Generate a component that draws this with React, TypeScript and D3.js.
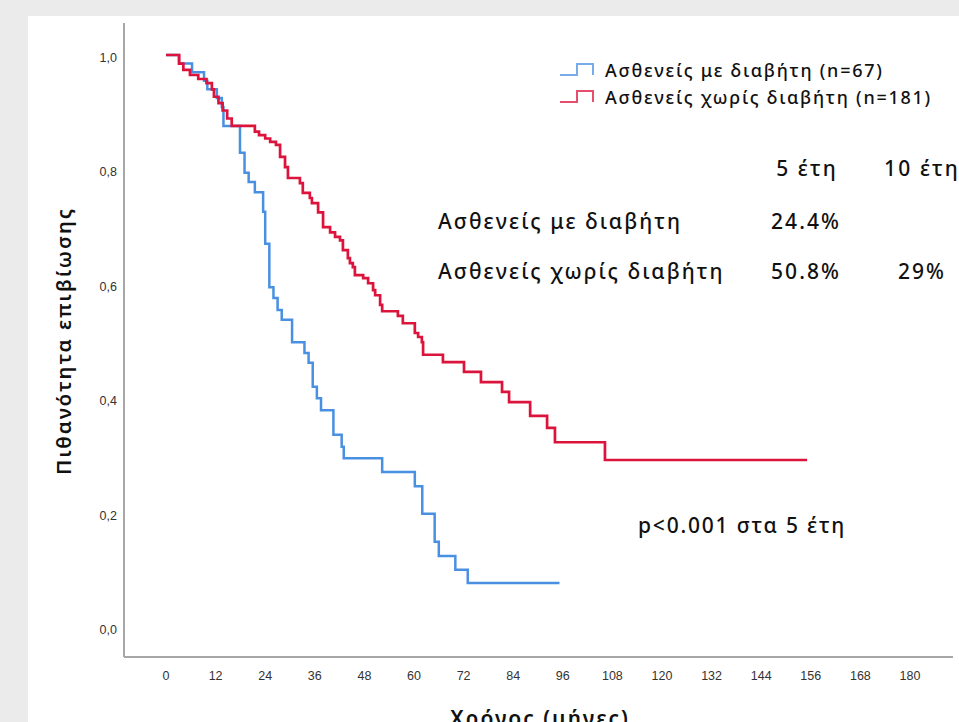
import React from 'react';
import * as d3 from 'd3';

// Kaplan-Meier steps: [month, survival] after each drop
const withDiabetes: [number, number][] = [
  [0, 1], [3.1, 0.985], [6.3, 0.97], [9.2, 0.955], [10, 0.94], [12.3, 0.925], [13.5, 0.909],
  [13.9, 0.876], [17.9, 0.829], [19, 0.794], [20, 0.778], [21.5, 0.76], [23.5, 0.726],
  [24, 0.67], [25, 0.594], [26, 0.575], [27, 0.554], [28, 0.537], [30.5, 0.498],
  [33.5, 0.479], [34.5, 0.462], [35.5, 0.42], [36.5, 0.4], [37.5, 0.379], [40.5, 0.336],
  [42.5, 0.315], [43, 0.295], [52.3, 0.271], [60.2, 0.246], [62, 0.198], [65, 0.149],
  [66, 0.124], [70, 0.1], [73, 0.077], [95.2, 0.077],
];

const withoutDiabetes: [number, number][] = [
  [0, 1], [3.2, 0.985], [4.2, 0.974], [5.8, 0.965], [7.8, 0.958], [9.8, 0.951], [11.1, 0.94],
  [11.6, 0.927], [12.7, 0.916], [13.7, 0.903], [14.8, 0.889], [15.9, 0.876], [21.5, 0.866],
  [22.5, 0.86], [24, 0.854], [25.2, 0.848], [26.6, 0.843], [27.6, 0.822], [28.8, 0.804],
  [29.5, 0.785], [32.4, 0.776], [33.1, 0.759], [34.8, 0.75], [35.3, 0.741], [36.8, 0.725],
  [38, 0.699], [39.7, 0.69], [40.9, 0.682], [42.1, 0.676], [42.8, 0.659], [44, 0.645],
  [44.5, 0.636], [45.2, 0.629], [45.7, 0.615], [47.7, 0.61], [48.9, 0.601], [50.1, 0.589],
  [50.6, 0.58], [51.8, 0.563], [52.3, 0.552], [56.1, 0.544], [57.3, 0.531], [60.2, 0.514],
  [61, 0.507], [61.9, 0.498], [62.2, 0.476], [67, 0.463], [72.1, 0.446], [76.2, 0.428],
  [81.3, 0.411], [83, 0.393], [88.1, 0.369], [92.2, 0.348], [94.1, 0.323], [106.2, 0.292],
  [155.1, 0.292],
];

const xTicks = [0, 12, 24, 36, 48, 60, 72, 84, 96, 108, 120, 132, 144, 156, 168, 180];
const yTicks = [0, 0.2, 0.4, 0.6, 0.8, 1.0];

const legendLabels = ['Ασθενείς με διαβήτη (n=67)', 'Ασθενείς χωρίς διαβήτη (n=181)'];
const tableHeader = ['5 έτη', '10 έτη'];
const tableRows: [string, string, string][] = [
  ['Ασθενείς με διαβήτη', '24.4%', ''],
  ['Ασθενείς χωρίς διαβήτη', '50.8%', '29%'],
];
const pText = 'p<0.001 στα 5 έτη';

const blue = '#4a90e2';
const red = '#dc143c';

export default function App() {
  const width = 959;
  const height = 722;

  const x = d3.scaleLinear().domain([0, 180]).range([166, 910]);
  const y = d3.scaleLinear().domain([0, 1]).range([627, 55]);

  const line = d3.line<[number, number]>()
    .x((d) => x(d[0]))
    .y((d) => y(d[1]))
    .curve(d3.curveStepAfter);

  const tickFont = '"Liberation Sans", Arial, sans-serif';
  const textFont = '"Noto Sans", Roboto, sans-serif';
  const big = { fontFamily: textFont, fontWeight: 500, fontSize: 21, letterSpacing: 2.1, fill: '#111' };

  return (
    <svg width={width} height={height} style={{ position: 'absolute', left: 0, top: 0 }}>
      <rect x={0} y={0} width={width} height={height} fill="#ebebeb" />
      <rect x={28} y={16} width={width - 28} height={height - 16} fill="#fff" />

      {/* axes */}
      <line x1={124} x2={124} y1={23} y2={657} stroke="#a6a6a6" strokeWidth={2} />
      <line x1={124} x2={953} y1={657} y2={657} stroke="#a6a6a6" strokeWidth={2} />

      {yTicks.map((t) => (
        <text key={t} x={117} y={y(t) + 7} textAnchor="end" fontFamily={tickFont}
          fontSize={12.5} fill="#333">
          {t.toFixed(1).replace('.', ',')}
        </text>
      ))}
      {xTicks.map((t) => (
        <text key={t} x={x(t)} y={680} textAnchor="middle" fontFamily={tickFont}
          fontSize={12.5} fill="#333">
          {t}
        </text>
      ))}

      <text transform="translate(71,341) rotate(-90)" textAnchor="middle" fontFamily={textFont}
        fontWeight={600} fontSize={20.5} letterSpacing={1.9} fill="#111">
        Πιθανότητα επιβίωσης
      </text>
      <text x={540} y={726} textAnchor="middle" fontFamily={textFont} fontWeight={600}
        fontSize={21} letterSpacing={2} fill="#111">
        Χρόνος (μήνες)
      </text>

      {/* curves */}
      <path d={line(withDiabetes) || ''} fill="none" stroke={blue} strokeWidth={2.5} />
      <path d={line(withoutDiabetes) || ''} fill="none" stroke={red} strokeWidth={2.7} />

      {/* legend */}
      {legendLabels.map((lab, i) => {
        const cy = 71 + i * 27;
        const c = i === 0 ? blue : red;
        return (
          <g key={lab}>
            <path d={`M560,${cy + 4}H577V${cy - 7}H593V${cy + 4}`} fill="none" stroke={c}
              strokeWidth={2} opacity={0.75} />
            <text x={605} y={cy + 6} fontFamily={textFont} fontWeight={500} fontSize={18}
              letterSpacing={1.75} fill="#111">
              {lab}
            </text>
          </g>
        );
      })}

      {/* survival table */}
      {tableHeader.map((h, i) => (
        <text key={h} x={i === 0 ? 807 : 922} y={176} textAnchor="middle" {...big}>
          {h}
        </text>
      ))}
      {tableRows.map((r, i) => (
        <g key={r[0]}>
          <text x={438} y={229 + i * 50} {...big}>{r[0]}</text>
          <text x={806} y={229 + i * 50} textAnchor="middle" {...big}>{r[1]}</text>
          <text x={922} y={229 + i * 50} textAnchor="middle" {...big}>{r[2]}</text>
        </g>
      ))}

      <text x={638} y={533} {...big} letterSpacing={1.8}>{pText}</text>
    </svg>
  );
}
